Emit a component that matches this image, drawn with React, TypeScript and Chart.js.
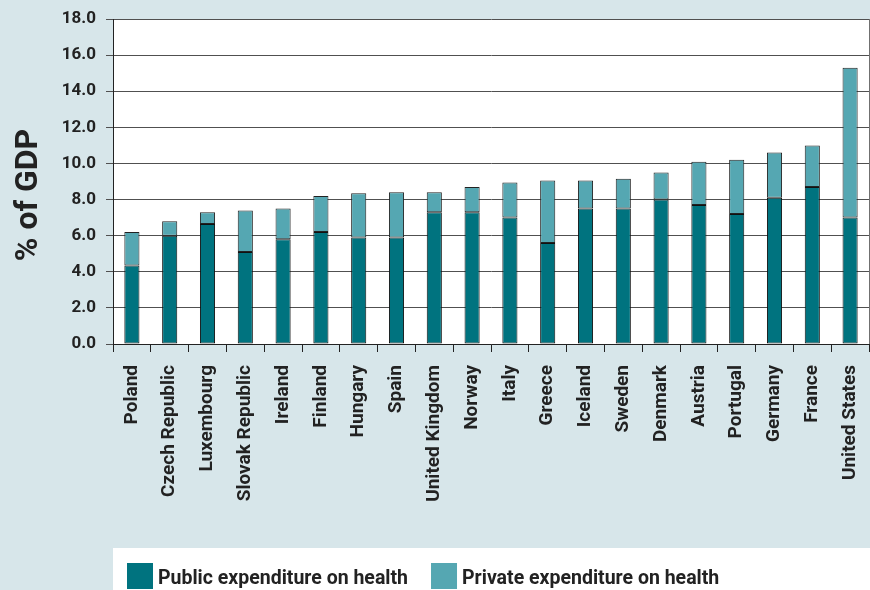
import React, { useEffect, useRef } from "react";
import { Chart, registerables } from "chart.js";

Chart.register(...registerables);

const categories = [
  "Poland", "Czech Republic", "Luxembourg", "Slovak Republic", "Ireland",
  "Finland", "Hungary", "Spain", "United Kingdom", "Norway", "Italy",
  "Greece", "Iceland", "Sweden", "Denmark", "Austria", "Portugal",
  "Germany", "France", "United States",
];
const publicExpenditure = [4.35, 6.0, 6.65, 5.1, 5.8, 6.2, 5.9, 5.9, 7.3, 7.3, 7.0, 5.6, 7.5, 7.5, 8.0, 7.7, 7.2, 8.1, 8.7, 7.0];
const privateExpenditure = [1.85, 0.8, 0.65, 2.3, 1.7, 2.0, 2.45, 2.5, 1.1, 1.4, 1.95, 3.45, 1.55, 1.65, 1.5, 2.4, 3.0, 2.5, 2.3, 8.3];
const seriesLabels = ["Public expenditure on health", "Private expenditure on health"];
const yTitle = "% of GDP";

const FONT = 'Roboto, "Liberation Sans", sans-serif';
const BG = "#d7e6ea";
const PUBLIC_COLOR = "#00737f";
const PRIVATE_COLOR = "#55a7b2";
const TEXT = "#222222";
const GRID = "#505050";

const decorPlugin = {
  id: "decor",
  beforeDraw(chart: any) {
    const { ctx, width, height, chartArea } = chart;
    ctx.save();
    ctx.fillStyle = BG;
    ctx.fillRect(0, 0, width, height);
    ctx.fillStyle = "#ffffff";
    ctx.fillRect(chartArea.left, chartArea.top, chartArea.right - chartArea.left, chartArea.bottom - chartArea.top);
    // legend panel
    ctx.fillRect(chartArea.left, height - 42, width - chartArea.left, 42);
    ctx.restore();
  },
  afterDraw(chart: any) {
    const { ctx, height, chartArea } = chart;
    ctx.save();
    // right border of plot
    ctx.strokeStyle = "#707070";
    ctx.lineWidth = 1;
    ctx.beginPath();
    ctx.moveTo(chartArea.right + 0.5, chartArea.top);
    ctx.lineTo(chartArea.right + 0.5, chartArea.bottom);
    ctx.stroke();

    // y axis title
    ctx.fillStyle = TEXT;
    ctx.font = `bold 32px ${FONT}`;
    ctx.textAlign = "center";
    ctx.textBaseline = "alphabetic";
    ctx.translate(37, 195);
    ctx.rotate(-Math.PI / 2);
    ctx.fillText(yTitle, 0, 0);
    ctx.restore();

    // legend
    ctx.save();
    ctx.font = `bold 19.5px ${FONT}`;
    ctx.textAlign = "left";
    ctx.textBaseline = "alphabetic";
    let x = chartArea.left + 14;
    const boxTop = height - 27;
    chart.data.datasets.forEach((ds: any) => {
      ctx.fillStyle = ds.backgroundColor;
      ctx.fillRect(x, boxTop, 26, 26);
      ctx.fillStyle = TEXT;
      ctx.fillText(ds.label, x + 31, height - 6);
      x += 31 + ctx.measureText(ds.label).width + 23;
    });
    ctx.restore();
  },
};

export default function App() {
  const ref = useRef<HTMLCanvasElement | null>(null);

  useEffect(() => {
    if (!ref.current) return;
    const chart = new Chart(ref.current, {
      type: "bar",
      data: {
        labels: categories,
        datasets: [
          {
            label: seriesLabels[0],
            data: publicExpenditure,
            backgroundColor: PUBLIC_COLOR,
            borderColor: "#111111",
            borderWidth: 1,
            borderSkipped: false,
            barPercentage: 0.4,
            categoryPercentage: 1,
          },
          {
            label: seriesLabels[1],
            data: privateExpenditure,
            backgroundColor: PRIVATE_COLOR,
            borderColor: "#222222",
            borderWidth: 1,
            borderSkipped: false,
            barPercentage: 0.4,
            categoryPercentage: 1,
          },
        ],
      },
      options: {
        responsive: false,
        animation: false,
        layout: { padding: { top: 19, right: 1, bottom: 42, left: 0 } },
        plugins: {
          legend: { display: false },
          tooltip: { enabled: false },
        },
        scales: {
          x: {
            stacked: true,
            afterFit: (s: any) => {
              s.height = 204;
              s.paddingLeft = 0;
              s.paddingRight = 0;
            },
            grid: {
              drawOnChartArea: false,
              drawTicks: true,
              tickLength: 8,
              color: "#222222",
              offset: true,
            },
            border: { display: true, color: "#222222", width: 1 },
            ticks: {
              autoSkip: false,
              maxRotation: 90,
              minRotation: 90,
              padding: 13,
              color: TEXT,
              font: { family: FONT, size: 19, weight: "bold" },
            },
          },
          y: {
            stacked: true,
            min: 0,
            max: 18,
            afterFit: (s: any) => {
              s.width = 113;
              s.paddingTop = 0;
              s.paddingBottom = 0;
            },
            grid: {
              color: GRID,
              lineWidth: 1,
              drawTicks: true,
              tickLength: 7,
            },
            border: { display: true, color: "#222222", width: 1 },
            ticks: {
              stepSize: 2,
              padding: 10,
              color: TEXT,
              font: { family: FONT, size: 17, weight: "bold" },
              callback: (v: any) => Number(v).toFixed(1),
            },
          },
        },
      },
      plugins: [decorPlugin],
    });
    return () => chart.destroy();
  }, []);

  return (
    <div style={{ position: "absolute", left: 0, top: 0, width: 870, height: 590, background: BG }}>
      <canvas ref={ref} width={870} height={590} style={{ display: "block" }} />
    </div>
  );
}
